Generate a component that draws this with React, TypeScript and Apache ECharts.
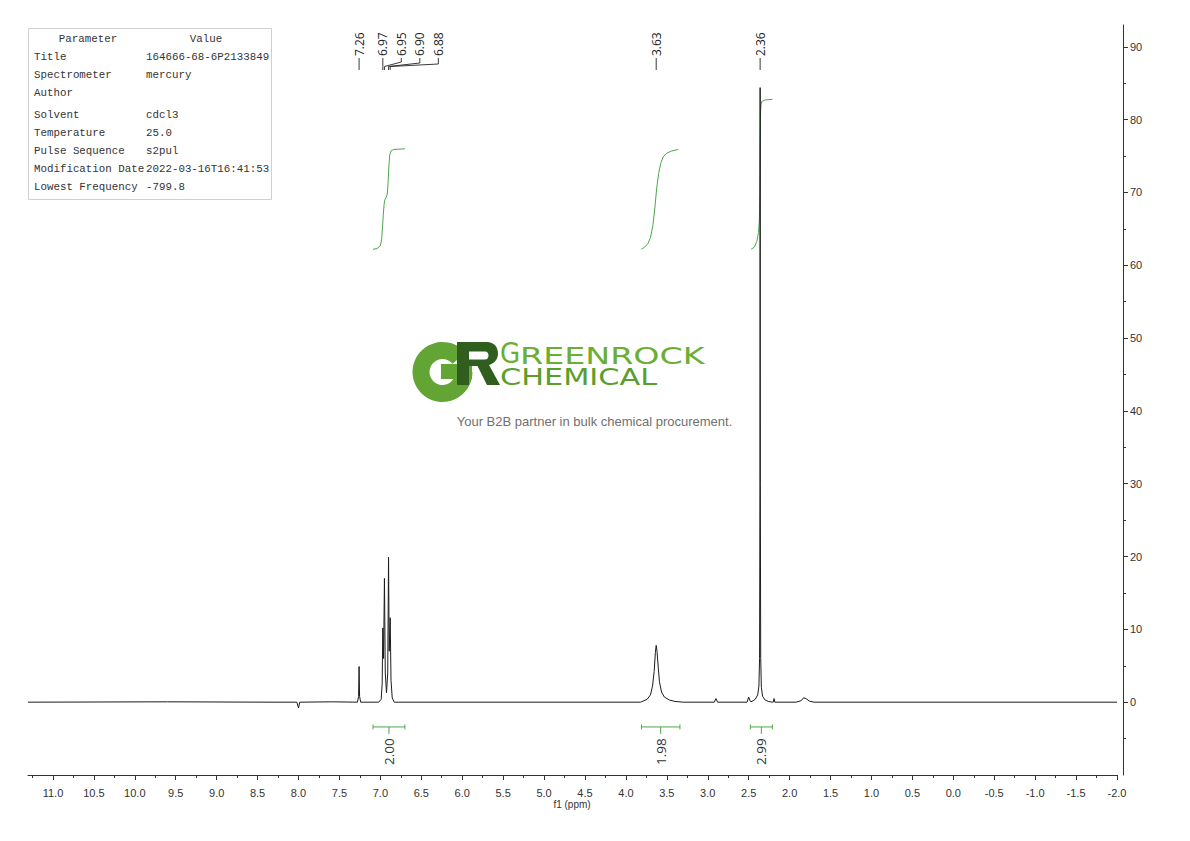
import React, { useEffect, useRef } from "react";
import * as echarts from "echarts";

// ---------------- data ----------------
const tableHeader = ["Parameter", "Value"];
const tableParams = ["Title", "Spectrometer", "Author", "Solvent", "Temperature", "Pulse Sequence", "Modification Date", "Lowest Frequency"];
const tableValues = ["164666-68-6P2133849", "mercury", "", "cdcl3", "25.0", "s2pul", "2022-03-16T16:41:53", "-799.8"];

// spectrum points [ppm, intensity]
const baselineLeft = [[11.305, 0.0], [9.6, 0.05], [8.3, 0.0], [8.02, 0.0], [8.0, -0.8], [7.985, 0.0], [7.6, 0.05]];
const peak726 = [[7.28, 0.0], [7.266, 0.8], [7.26, 4.9], [7.254, 0.8], [7.24, 0.0]];
const multiplet69 = [[7.02, 0.0], [6.99, 0.4], [6.978, 2.5], [6.97, 10.2], [6.961, 6.0], [6.95, 17.0], [6.94, 4.0], [6.925, 1.3], [6.91, 4.0], [6.9, 19.9], [6.892, 7.0], [6.88, 11.6], [6.87, 3.0], [6.855, 0.6], [6.83, 0.0]];
const peak363 = [[3.82, 0.0], [3.74, 0.4], [3.7, 1.0], [3.675, 2.2], [3.655, 4.2], [3.64, 6.8], [3.63, 7.8], [3.62, 7.0], [3.605, 4.8], [3.59, 2.8], [3.565, 1.4], [3.53, 0.7], [3.47, 0.3], [3.4, 0.1], [3.3, 0.0]];
const minorPeaksA = [[2.92, 0.0], [2.9, 0.5], [2.88, 0.0], [2.52, 0.0], [2.5, 0.7], [2.48, 0.1]];
const peak236 = [[2.46, 0.1], [2.42, 0.4], [2.39, 1.0], [2.375, 2.2], [2.367, 6.0], [2.362, 30.0], [2.36, 84.4], [2.358, 30.0], [2.353, 6.0], [2.345, 2.0], [2.33, 0.8], [2.3, 0.3], [2.26, 0.1], [2.21, 0.0]];
const minorPeaksB = [[2.2, 0.0], [2.19, 0.5], [2.18, 0.0], [1.92, 0.0], [1.86, 0.2], [1.83, 0.6], [1.8, 0.5], [1.76, 0.15], [1.7, 0.0], [-2.0, 0.0]];

// integral curves [ppm, value]
const integralCurve1 = [[7.09, 62.2], [7.04, 62.3], [7.0, 62.7], [6.985, 63.5], [6.975, 65.0], [6.965, 66.8], [6.955, 68.3], [6.945, 69.0], [6.93, 69.3], [6.915, 69.8], [6.905, 71.5], [6.895, 73.8], [6.885, 75.2], [6.87, 75.7], [6.84, 75.9], [6.7, 76.0]];
const integralCurve2 = [[3.81, 62.2], [3.77, 62.5], [3.73, 63.0], [3.7, 63.8], [3.67, 65.5], [3.645, 68.0], [3.625, 70.5], [3.6, 72.6], [3.575, 74.0], [3.545, 74.9], [3.5, 75.4], [3.44, 75.7], [3.36, 75.9]];
const integralCurve3 = [[2.47, 62.2], [2.43, 62.5], [2.4, 63.3], [2.38, 64.5], [2.37, 66.0], [2.364, 70.0], [2.36, 76.0], [2.356, 80.5], [2.35, 82.0], [2.34, 82.5], [2.3, 82.7], [2.21, 82.8]];

const integralRanges = [[7.09, 6.7], [3.81, 3.34], [2.48, 2.21]];
const integralLabels = ["2.00", "1.98", "2.99"];

const peakPpm = [7.26, 6.97, 6.95, 6.9, 6.88, 3.63, 2.36];
const peakLabels = ["7.26", "6.97", "6.95", "6.90", "6.88", "3.63", "2.36"];
const multipletMembers = [1, 2, 3, 4];

// axis ranges
const X_MIN = -2.0;
const X_MAX = 11.305;
const X_MAJOR_MAX = 11.0;
const X_MINOR_MAX = 11.25;
const Y_MIN = -10;
const Y_MAX = 93;
const Y_MAJOR_MAX = 90;
const Y_MINOR_MIN = -5;
const BRACKET_Y = -3.4;

// ---------------- layout ----------------
const W = 1190;
const H = 841;
const G_LEFT = 28;
const G_RIGHT = 73;
const G_TOP = 25;
const G_BOTTOM = 66;
const PLOT_R = W - G_RIGHT;
const PLOT_B = H - G_BOTTOM;
const PPP = (PLOT_R - G_LEFT) / (X_MAX - X_MIN);
const PPU = (PLOT_B - G_TOP) / (Y_MAX - Y_MIN);
const yPix = (v: number) => PLOT_B - (v - Y_MIN) * PPU;
const xLeftFor = (v: number) => PLOT_R - (v - X_MIN) * PPP;

const axisFont = "'Liberation Sans', Arial, sans-serif";
const labelFont = "'Open Sans', 'Noto Sans', 'DejaVu Sans', sans-serif";
const monoFont = "'Liberation Mono', 'DejaVu Sans Mono', monospace";
const GREEN = "#4ea64e";
const AXIS = "#333";

const R_PATH =
  "M0 0 H30 C37 0 41 5 41 11.5 C41 17 37.5 21.5 32 23 L43 43 H30 L20.5 24 H12 V43 H0 Z " +
  "M12 9.5 V17.5 H28 C30.5 17.5 31.5 15.5 31.5 13.5 C31.5 11.5 30.5 9.5 28 9.5 Z";
echarts.graphic.registerShape("logoR", echarts.graphic.extendPath(R_PATH, {}) as any);

const noSplit = { show: false };

function buildOption() {
  const spectrum = [...baselineLeft, ...peak726, ...multiplet69, ...peak363, ...minorPeaksA, ...peak236, ...minorPeaksB];
  const grids = [
    { left: G_LEFT, right: G_RIGHT, top: G_TOP, bottom: G_BOTTOM },
    { left: xLeftFor(X_MAJOR_MAX), right: G_RIGHT, top: G_TOP, bottom: G_BOTTOM },
    { left: xLeftFor(X_MINOR_MAX), right: G_RIGHT, top: G_TOP, bottom: G_BOTTOM },
    { left: G_LEFT, right: G_RIGHT, top: yPix(Y_MAJOR_MAX), bottom: H - yPix(0) },
    { left: G_LEFT, right: G_RIGHT, top: yPix(Y_MAJOR_MAX), bottom: H - yPix(Y_MINOR_MIN) },
  ];
  const hiddenX = (gi: number) => ({ gridIndex: gi, type: "value", min: 0, max: 1, show: false, splitLine: noSplit, axisLine: { onZero: false } });
  const hiddenY = (gi: number) => ({ gridIndex: gi, type: "value", min: 0, max: 1, show: false, splitLine: noSplit, axisLine: { onZero: false } });
  const curveSeries = (d: number[][]) => ({
    type: "line", xAxisIndex: 0, yAxisIndex: 0, data: d, symbol: "none", showSymbol: false,
    lineStyle: { color: GREEN, width: 1 }, z: 3,
  });
  return {
    animation: false,
    backgroundColor: "#ffffff",
    grid: grids,
    xAxis: [
      {
        gridIndex: 0, type: "value", min: X_MIN, max: X_MAX, inverse: true, position: "bottom",
        axisLine: { show: true, onZero: false, lineStyle: { color: AXIS, width: 1 } },
        axisTick: { show: false }, axisLabel: { show: false }, splitLine: noSplit,
      },
      {
        gridIndex: 1, type: "value", min: X_MIN, max: X_MAJOR_MAX, interval: 0.5, inverse: true, position: "bottom",
        axisLine: { show: false, onZero: false },
        axisTick: { show: true, length: 5, lineStyle: { color: AXIS } },
        axisLabel: { show: true, margin: 12, fontSize: 11, fontFamily: axisFont, color: "#333", formatter: (v: number) => v.toFixed(1) },
        splitLine: noSplit,
      },
      {
        gridIndex: 2, type: "value", min: X_MIN, max: X_MINOR_MAX, interval: 0.25, inverse: true, position: "bottom",
        axisLine: { show: false, onZero: false },
        axisTick: { show: true, length: 3, lineStyle: { color: AXIS } },
        axisLabel: { show: false }, splitLine: noSplit,
      },
      hiddenX(3),
      hiddenX(4),
    ],
    yAxis: [
      {
        gridIndex: 0, type: "value", min: Y_MIN, max: Y_MAX, position: "right", offset: 6,
        axisLine: { show: true, onZero: false, lineStyle: { color: AXIS, width: 1 } },
        axisTick: { show: false }, axisLabel: { show: false }, splitLine: noSplit,
      },
      hiddenY(1),
      hiddenY(2),
      {
        gridIndex: 3, type: "value", min: 0, max: Y_MAJOR_MAX, interval: 10, position: "right", offset: 6,
        axisLine: { show: false, onZero: false },
        axisTick: { show: true, length: 5, lineStyle: { color: AXIS } },
        axisLabel: { show: true, margin: 7, fontSize: 11, fontFamily: axisFont, color: "#333" },
        splitLine: noSplit,
      },
      {
        gridIndex: 4, type: "value", min: Y_MINOR_MIN, max: Y_MAJOR_MAX, interval: 5, position: "right", offset: 6,
        axisLine: { show: false, onZero: false },
        axisTick: { show: true, length: 3, lineStyle: { color: AXIS } },
        axisLabel: { show: false }, splitLine: noSplit,
      },
    ],
    series: [
      {
        type: "line", xAxisIndex: 0, yAxisIndex: 0, data: spectrum, symbol: "none", showSymbol: false,
        lineStyle: { color: "#1c1c1c", width: 1 }, z: 4,
      },
      curveSeries(integralCurve1),
      curveSeries(integralCurve2),
      curveSeries(integralCurve3),
    ],
  };
}

function buildGraphics(chart: echarts.ECharts) {
  const P = (x: number, y: number) => chart.convertToPixel({ gridIndex: 0 }, [x, y]) as number[];
  const els: any[] = [];

  // ---- parameter table ----
  els.push({ type: "rect", shape: { x: 28.5, y: 28.5, width: 243, height: 171 }, style: { fill: "#fff", stroke: "#cfcfcf", lineWidth: 1 }, z: 10 });
  const rowY = [57, 75, 93, 115, 133, 151, 169, 187];
  const tStyle = { fontFamily: monoFont, fontSize: 10.8, fill: "#333", verticalAlign: "middle" };
  els.push({ type: "text", x: 88, y: 39, z: 11, style: { ...tStyle, text: tableHeader[0], align: "center" } });
  els.push({ type: "text", x: 206, y: 39, z: 11, style: { ...tStyle, text: tableHeader[1], align: "center" } });
  tableParams.forEach((p, i) => {
    els.push({ type: "text", x: 34, y: rowY[i], z: 11, style: { ...tStyle, text: p, align: "left" } });
    if (tableValues[i]) els.push({ type: "text", x: 146, y: rowY[i], z: 11, style: { ...tStyle, text: tableValues[i], align: "left" } });
  });

  // ---- peak labels ----
  const labelX = peakPpm.map((p) => P(p, 0)[0]);
  const peakX = labelX.slice();
  const firstM = labelX[multipletMembers[0]];
  multipletMembers.forEach((idx, k) => { labelX[idx] = firstM + k * 18.5; });
  peakPpm.forEach((_, i) => {
    const lx = labelX[i];
    const px = peakX[i];
    const isM = multipletMembers.indexOf(i) >= 0;
    const pts = isM ? [[lx, 58], [lx, 61 + (i - 1) * 1], [px, 66.5], [px, 70]] : [[lx, 58], [lx, 70]];
    els.push({ type: "polyline", shape: { points: pts }, style: { stroke: "#222", lineWidth: 0.9, fill: null } });
    els.push({ type: "text", x: lx, y: 56, rotation: Math.PI / 2, style: { text: peakLabels[i], fontFamily: labelFont, fontSize: 12, fill: "#222", align: "left", verticalAlign: "middle" } });
  });

  // ---- integral brackets ----
  const by = P(0, BRACKET_Y)[1];
  integralRanges.forEach((r, i) => {
    const xa = P(r[0], BRACKET_Y)[0];
    const xb = P(r[1], BRACKET_Y)[0];
    const xc = (xa + xb) / 2;
    const ls = { stroke: GREEN, lineWidth: 1 };
    els.push({ type: "line", shape: { x1: xa, y1: by, x2: xb, y2: by }, style: ls });
    els.push({ type: "line", shape: { x1: xa, y1: by - 2.5, x2: xa, y2: by + 2.5 }, style: ls });
    els.push({ type: "line", shape: { x1: xb, y1: by - 2.5, x2: xb, y2: by + 2.5 }, style: ls });
    els.push({ type: "line", shape: { x1: xc, y1: by, x2: xc, y2: by + 7 }, style: ls });
    els.push({ type: "text", x: xc, y: by + 38, rotation: Math.PI / 2, style: { text: integralLabels[i], fontFamily: labelFont, fontSize: 13.5, fill: "#333", align: "left", verticalAlign: "middle" } });
  });

  // ---- axis name ----
  els.push({ type: "text", x: 572, y: 804, style: { text: "f1 (ppm)", fontFamily: axisFont, fontSize: 10, fill: "#333", align: "center", verticalAlign: "middle" } });

  // ---- watermark logo ----
  els.push({ type: "sector", shape: { cx: 442.5, cy: 372, r0: 13, r: 30, startAngle: 0, endAngle: 5.6, clockwise: true }, style: { fill: "#62a534" }, z: 1 });
  els.push({ type: "rect", shape: { x: 441, y: 364, width: 31, height: 15 }, style: { fill: "#62a534" }, z: 1 });
  els.push({ type: "logoR", x: 457, y: 342, style: { fill: "#2f5e1e" }, z: 1 });
  els.push({ type: "text", x: 500, y: 353, z: 1, scaleX: 0.9, style: { text: "G", fontFamily: "'DejaVu Sans', sans-serif", fontSize: 29, fill: "#6aae33", align: "left", verticalAlign: "middle" } });
  els.push({ type: "text", x: 520, y: 355.5, z: 1, scaleX: 1.45, style: { text: "REENROCK", fontFamily: "'DejaVu Sans', sans-serif", fontSize: 23, fill: "#6aae33", align: "left", verticalAlign: "middle" } });
  els.push({ type: "text", x: 500, y: 376.5, z: 1, scaleX: 1.32, style: { text: "CHEMICAL", fontFamily: "'DejaVu Sans', sans-serif", fontSize: 23, fill: "#5a9e2c", align: "left", verticalAlign: "middle" } });
  els.push({ type: "text", x: 594.5, y: 421, z: 1, style: { text: "Your B2B partner in bulk chemical procurement.", fontFamily: "'Liberation Sans', Arial, sans-serif", fontSize: 13, fill: "#707070", align: "center", verticalAlign: "middle" } });

  return els;
}

export default function App() {
  const ref = useRef<HTMLDivElement>(null);
  useEffect(() => {
    if (!ref.current) return;
    const chart = echarts.init(ref.current, null, { renderer: "svg" });
    chart.setOption(buildOption() as any);
    chart.setOption({ graphic: buildGraphics(chart) } as any);
    return () => chart.dispose();
  }, []);
  return <div ref={ref} style={{ position: "fixed", left: 0, top: 0, width: W, height: H, background: "#fff" }} />;
}
